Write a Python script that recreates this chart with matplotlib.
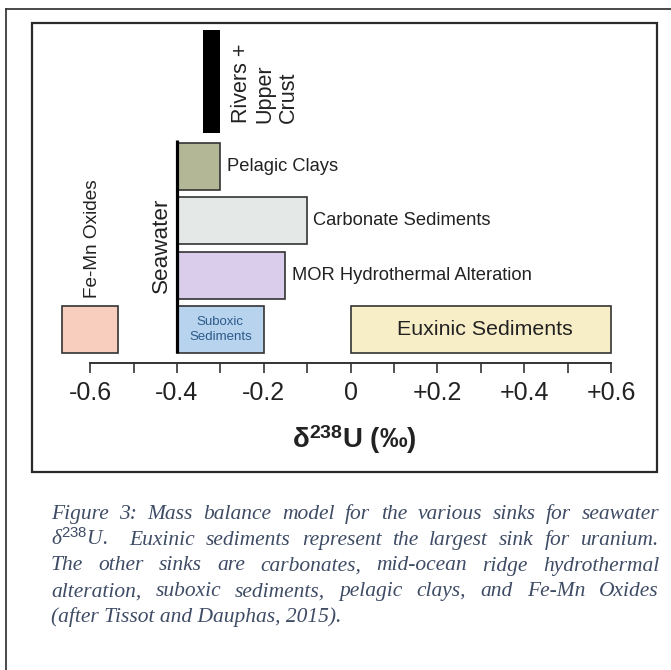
import matplotlib
matplotlib.use("Agg")
import matplotlib.pyplot as plt
from matplotlib.lines import Line2D
from matplotlib.patches import Rectangle
import numpy as np

plt.rcParams['font.family'] = ['Liberation Sans', 'DejaVu Sans']
plt.rcParams['mathtext.fontset'] = 'custom'
plt.rcParams['mathtext.rm'] = 'Liberation Sans'
plt.rcParams['mathtext.bf'] = 'Liberation Sans:bold'
plt.rcParams['mathtext.it'] = 'Liberation Serif:italic'

# uranium sinks, d238U range in permil
sinks = ["Euxinic Sediments", "Suboxic\nSediments", "Fe-Mn Oxides",
         "MOR Hydrothermal Alteration", "Carbonate Sediments", "Pelagic Clays"]
sink_lo = [0.0, -0.40, -0.665, -0.40, -0.40, -0.40]
sink_hi = [0.60, -0.20, -0.535, -0.15, -0.10, -0.30]
sink_colors = ["#f7eec8", "#b7d3ee", "#f8cfbf", "#dacdec", "#e4e8e7", "#b4b795"]

seawater = -0.40
rivers = [-0.34, -0.30]   # rivers + upper crust

ticks = [-0.6, -0.4, -0.2, 0, 0.2, 0.4, 0.6]
tick_labels = ["-0.6", "-0.4", "-0.2", "0", "+0.2", "+0.4", "+0.6"]

caption_lines = [
    "Figure 3: Mass balance model for the various sinks for seawater",
    r"δ$^{\mathit{238}}$U.  Euxinic sediments represent the largest sink for uranium.",
    "The other sinks are carbonates, mid-ocean ridge hydrothermal",
    "alteration, suboxic sediments, pelagic clays, and Fe-Mn Oxides",
    "(after Tissot and Dauphas, 2015).",
]

# layout (pixels of a 671x670 canvas)
W, H = 671, 670
def fx(px): return px / W
def fy(py): return 1 - py / H

sink_row = [0, 0, 0, 1, 2, 3]
row_y = [33.5 + 54.3 * r for r in sink_row]

fig = plt.figure(figsize=(6.71, 6.70), dpi=100)
ax = fig.add_axes([fx(32), fy(363), fx(657) - fx(32), fy(23) - fy(363)])
ax.set_xlim(-0.734, 0.706)
ax.set_ylim(0, 340)

ax.barh(row_y, np.array(sink_hi) - np.array(sink_lo), left=sink_lo, height=47,
        color=sink_colors, edgecolor="#333333", linewidth=1.2)
ax.barh(281.5, rivers[1] - rivers[0], left=rivers[0], height=103, color="black")
ax.plot([seawater, seawater], [10, 223], color="black", lw=2.3, solid_capstyle="butt")

# labels next to bars
for i in [3, 4, 5]:
    ax.annotate(sinks[i], (sink_hi[i], row_y[i]), xytext=(4.5, 0), textcoords="offset points",
                ha="left", va="center", fontsize=13.2, color="#222222")
ax.text((sink_lo[0] + sink_hi[0]) / 2 + 0.01, row_y[0], sinks[0], ha="center", va="center",
        fontsize=15.4, color="#222222")
ax.text((sink_lo[1] + sink_hi[1]) / 2, row_y[1], sinks[1], ha="center", va="center",
        fontsize=9.5, color="#2d5a8a", linespacing=1.25)
ax.text((sink_lo[2] + sink_hi[2]) / 2 + 0.005, 65, sinks[2], rotation=90, ha="center",
        va="bottom", fontsize=13.7, color="#222222")
ax.text(-0.435, 70, "Seawater", rotation=90, ha="center", va="bottom", fontsize=16.2,
        color="#222222")
ax.text(-0.198, 240, "Rivers +\nUpper\nCrust", rotation=90, ha="center", va="bottom",
        multialignment="left", fontsize=15.5, linespacing=1.15, color="#222222")

for s in ["left", "right", "top"]:
    ax.spines[s].set_visible(False)
ax.spines["bottom"].set_bounds(-0.6, 0.6)
ax.spines["bottom"].set_linewidth(1.4)
ax.spines["bottom"].set_color("#333333")
ax.set_xticks(ticks, tick_labels)
ax.set_xticks(np.arange(-0.5, 0.6, 0.2), minor=True)
ax.tick_params(which="both", direction="out", length=7, width=1.2, color="#333333")
ax.tick_params(axis="x", labelsize=18, pad=6, labelcolor="#222222")
ax.set_yticks([])
ax.set_facecolor("none")

ax.set_xlabel(r"δ$^{\mathbf{238}}$U (‰)", fontsize=20, fontweight="bold", color="#222222")
ax.xaxis.label.set_va("center")
ax.xaxis.set_label_coords((354 - 32) / 625, (363 - 440) / 340)

# inner chart frame and outer page frame
fig.add_artist(Rectangle((fx(32), fy(472)), fx(657) - fx(32), fy(23) - fy(472),
                         transform=fig.transFigure, fill=False, lw=1.6, ec="#2a2a2a"))
fig.add_artist(Line2D([fx(6), fx(6)], [fy(9), 0], color="#3a3a3a", lw=1.3))
fig.add_artist(Line2D([fx(6), 1], [fy(9), fy(9)], color="#3a3a3a", lw=1.3))

# justified caption
renderer = fig.canvas.get_renderer()
x0, x1 = 51, 659
cap_kw = dict(fontsize=15.5, family="Liberation Serif", style="italic", color="#3f4c65",
              va="baseline", ha="left")
for i, line in enumerate(caption_lines):
    base = fy(519 + 25.75 * i)
    if i == len(caption_lines) - 1:
        fig.text(fx(x0), base, line, **cap_kw)
        continue
    words = line.split(" ")
    texts = [fig.text(0, base, w, **cap_kw) if w else None for w in words]
    widths = [t.get_window_extent(renderer).width if t else 0 for t in texts]
    gap = (x1 - x0 - sum(widths)) / (len(words) - 1)
    x = x0
    for t, w in zip(texts, widths):
        if t:
            t.set_x(fx(x))
        x += w + gap

fig.savefig("out.png", dpi=100)
